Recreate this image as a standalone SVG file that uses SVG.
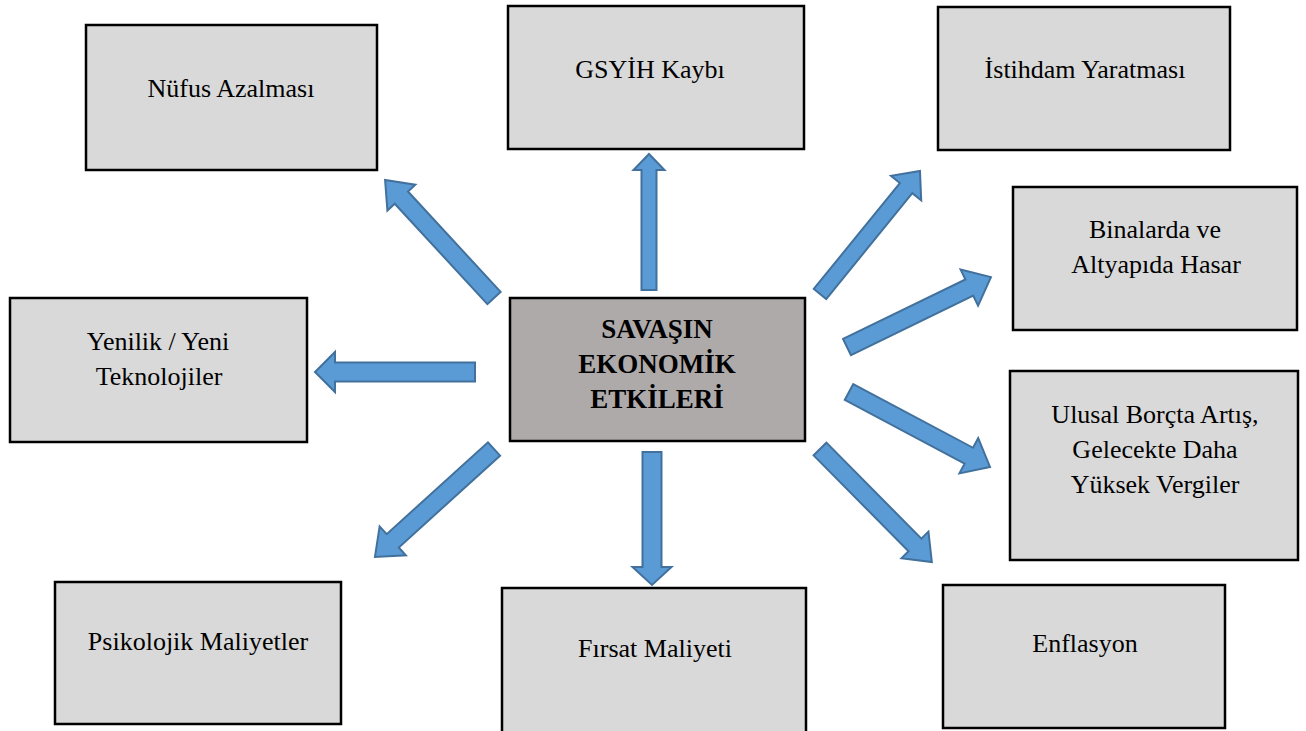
<svg xmlns="http://www.w3.org/2000/svg" width="1306" height="731" viewBox="0 0 1306 731">
<style>
.box{fill:#d9d9d9;stroke:#000;stroke-width:2.5}
.center{fill:#aeaaaa;stroke:#000;stroke-width:2.5}
.t{font-family:"Liberation Serif","Times New Roman",serif;font-size:26px;fill:#000;text-anchor:middle}
.tb{font-family:"Liberation Serif","Times New Roman",serif;font-size:27px;font-weight:bold;fill:#000;text-anchor:middle}
.arr{fill:#5b9bd5;stroke:#41719c;stroke-width:2;stroke-linejoin:miter}
</style>
<rect width="1306" height="731" fill="#fff"/>
<g id="node-nufus"><rect class="box" x="86" y="25" width="291" height="145"/><text class="t" x="231" y="97">Nüfus Azalması</text></g>
<g id="node-gsyih"><rect class="box" x="508" y="6" width="296" height="143"/><text class="t" x="650" y="78">GSYİH Kaybı</text></g>
<g id="node-istihdam"><rect class="box" x="938" y="7" width="292" height="143"/><text class="t" x="1085" y="78">İstihdam Yaratması</text></g>
<g id="node-binalar"><rect class="box" x="1013" y="187" width="284" height="143"/><text class="t" x="1155" y="238">Binalarda ve</text><text class="t" x="1156" y="273">Altyapıda Hasar</text></g>
<g id="node-yenilik"><rect class="box" x="10" y="298" width="297" height="144"/><text class="t" x="158" y="350">Yenilik / Yeni</text><text class="t" x="159" y="385">Teknolojiler</text></g>
<g id="node-center"><rect class="center" x="510" y="298" width="295" height="143"/><text class="tb" x="657" y="338">SAVAŞIN</text><text class="tb" x="657" y="373">EKONOMİK</text><text class="tb" x="657" y="408">ETKİLERİ</text></g>
<g id="node-ulusal"><rect class="box" x="1010" y="371" width="288" height="189"/><text class="t" x="1155" y="423">Ulusal Borçta Artış,</text><text class="t" x="1155" y="458">Gelecekte Daha</text><text class="t" x="1155" y="493">Yüksek Vergiler</text></g>
<g id="node-psikolojik"><rect class="box" x="55" y="582" width="286" height="142"/><text class="t" x="198" y="650">Psikolojik Maliyetler</text></g>
<g id="node-firsat"><rect class="box" x="502" y="588" width="304" height="146"/><text class="t" x="655" y="657">Fırsat Maliyeti</text></g>
<g id="node-enflasyon"><rect class="box" x="943" y="585" width="282" height="143"/><text class="t" x="1085" y="652">Enflasyon</text></g>
<g id="connectors">
<path class="arr" transform="translate(494,298) rotate(-132.7)" d="M0,-9 H136.6 V-19 L160.6,0 L136.6,19 V9 H0 Z"/>
<path class="arr" transform="translate(649,290) rotate(-90)" d="M0,-7.5 H120 V-15.5 L136,0 L120,15.5 V7.5 H0 Z"/>
<path class="arr" transform="translate(820,294) rotate(-50.9)" d="M0,-8 H136.5 V-19.5 L158.5,0 L136.5,19.5 V8 H0 Z"/>
<path class="arr" transform="translate(847,347) rotate(-25.9)" d="M0,-9 H136 V-20 L160,0 L136,20 V9 H0 Z"/>
<path class="arr" transform="translate(849,392) rotate(28)" d="M0,-9 H135.7 V-20 L159.7,0 L135.7,20 V9 H0 Z"/>
<path class="arr" transform="translate(820,449) rotate(45.3)" d="M0,-9 H135 V-19 L159,0 L135,19 V9 H0 Z"/>
<path class="arr" transform="translate(494,449) rotate(137.8)" d="M0,-9 H136.7 V-19.5 L160.7,0 L136.7,19.5 V9 H0 Z"/>
<path class="arr" transform="translate(475,372) rotate(180)" d="M0,-9.5 H140 V-20 L160,0 L140,20 V9.5 H0 Z"/>
<path class="arr" transform="translate(652,452) rotate(90)" d="M0,-9.5 H115 V-19.5 L133,0 L115,19.5 V9.5 H0 Z"/>
</g>
</svg>
